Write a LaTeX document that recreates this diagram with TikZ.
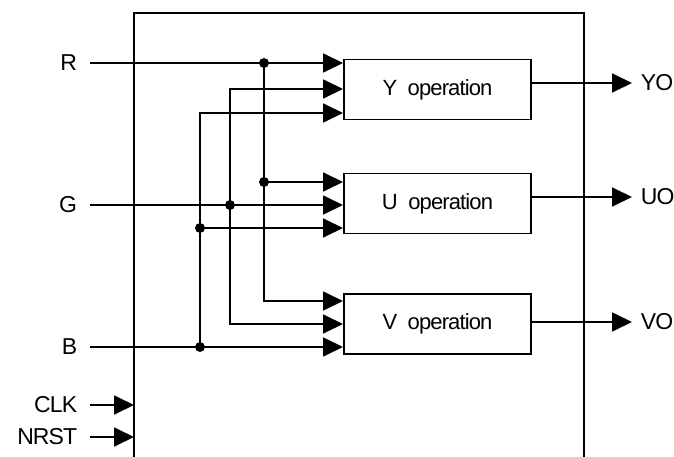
\documentclass[tikz,border=0pt]{standalone}
\usepackage{fontspec}
\setmainfont{Liberation Sans}
\newfontfamily\opfont{Liberation Sans}[LetterSpace=-4]
\usetikzlibrary{arrows.meta}

\begin{document}
\begin{tikzpicture}[x=1pt, y=-1pt, line width=1.8pt,
  opbox/.style={draw, minimum width=187pt, minimum height=60pt, inner sep=0pt, font=\opfont\fontsize{22}{22}\selectfont},
  sig/.style={-{Triangle[length=20pt,width=19pt]}},
  pin/.style={anchor=east, inner ysep=0pt, inner xsep=12pt, font=\opfont\fontsize{23}{23}\selectfont},
  pout/.style={anchor=west, inner ysep=0pt, inner xsep=8pt, font=\opfont\fontsize{23}{23}\selectfont},
  dot/.style={circle, fill, inner sep=0pt, minimum size=10pt}]
\useasboundingbox (0,0) rectangle (674,457);
\draw (134,457) |- (584,13) -- (584,457);
\node[opbox] (ybox) at (437.5,89.5) {Y~ operation};
\node[opbox] (ubox) at (437.5,203.5) {U~ operation};
\node[opbox] (vbox) at (437.5,324) {V~ operation};
\coordinate (y1) at (343,63);
\coordinate (y2) at (343,89);
\coordinate (y3) at (343,113);
\coordinate (u1) at (343,182);
\coordinate (u2) at (343,205);
\coordinate (u3) at (343,228);
\coordinate (v1) at (343,301);
\coordinate (v2) at (343,324);
\coordinate (v3) at (343,347);
\node[pin] (r) at (90,63) {R};
\node[pin] (g) at (90,205) {G};
\node[pin] (b) at (90,347) {B};
\node[pin] (clk) at (90,405) {CLK};
\node[pin] (nrst) at (90,437) {NRST};
\coordinate (clkin) at (134,405);
\coordinate (nrstin) at (134,437);
\node[dot] (rj1) at (264,63) {};
\node[dot] (rj2) at (264,182) {};
\node[dot] (gj) at (230,205) {};
\node[dot] (bj1) at (200,347) {};
\node[dot] (bj2) at (200,228) {};
\draw[sig] (r.east) -- (y1);
\draw[sig] (rj1.center) |- (v1);
\draw[sig] (rj2.center) -- (u1);
\draw[sig] (g.east) -- (u2);
\draw[sig] (gj.center) |- (y2);
\draw[sig] (gj.center) |- (v2);
\draw[sig] (b.east) -- (v3);
\draw[sig] (bj1.center) |- (y3);
\draw[sig] (bj2.center) -- (u3);
\draw[sig] (clk.east) -- (clkin);
\draw[sig] (nrst.east) -- (nrstin);
\node[pout] (yo) at (632,83) {YO};
\node[pout] (uo) at (632,197) {UO};
\node[pout] (vo) at (632,322) {VO};
\draw[sig] (ybox.east |- yo.west) -- (yo.west);
\draw[sig] (ubox.east |- uo.west) -- (uo.west);
\draw[sig] (vbox.east |- vo.west) -- (vo.west);
\end{tikzpicture}
\end{document}
